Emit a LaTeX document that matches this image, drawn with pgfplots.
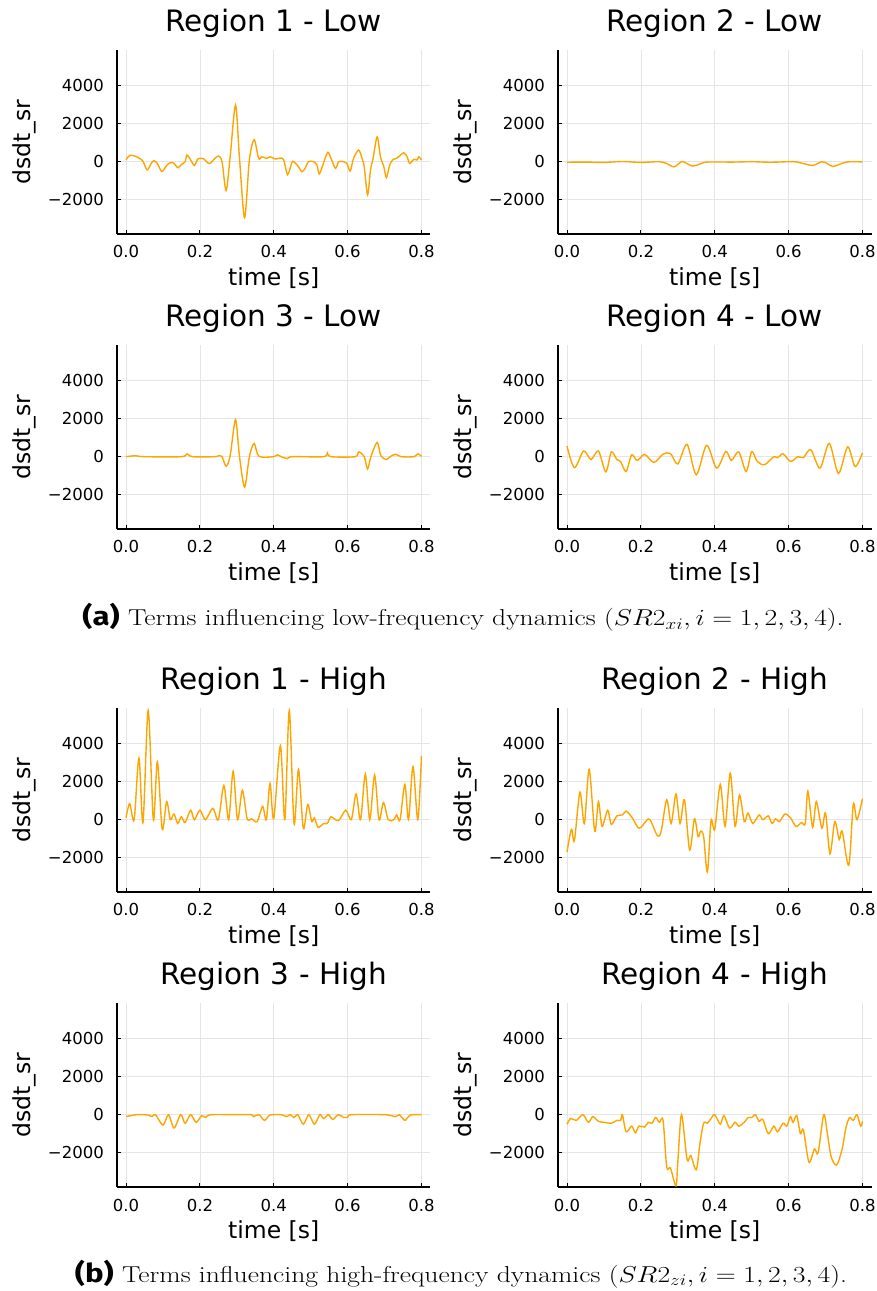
\documentclass[border=0pt]{standalone}
\usepackage{fix-cm}
\usepackage{pgfplots}
\pgfplotsset{compat=1.18}
\usepackage{fontspec}
\newfontfamily\dv{DejaVu Sans}
\newfontfamily\fira{Fira Sans}
\definecolor{jorange}{RGB}{255,165,0}
\pgfplotsset{panel/.style={
  scale only axis, width=313.5pt, height=184pt,
  xmin=-0.0244, xmax=0.8244, ymin=-3805, ymax=5878,
  axis lines=left, axis line style={black, line width=1.1pt, -},
  tick align=inside, major tick length=4pt, tick style={black, line width=0.8pt},
  xtick={0,0.2,0.4,0.6,0.8}, xticklabels={0.0,0.2,0.4,0.6,0.8},
  ytick={-2000,0,2000,4000}, yticklabels={−2000,0,2000,4000},
  grid=major, grid style={black!10, line width=0.6pt},
  ticklabel style={font=\dv\fontsize{16.5}{18}\selectfont, inner sep=0pt},
  xticklabel style={anchor=base, yshift=-24pt},
  yticklabel style={anchor=east, xshift=-13pt},
  xlabel={time [s]}, ylabel={dsdt\_sr},
  label style={font=\dv\fontsize{23.5}{26}\selectfont, inner sep=0pt},
  xlabel style={at={(axis description cs:0.5,0)}, anchor=base, yshift=-52pt},
  ylabel style={at={(axis description cs:-0.2775,0.5)}, anchor=base},
  title style={font=\dv\fontsize{29.5}{34}\selectfont, at={(axis description cs:0.5,1)}, anchor=base, yshift=12.3pt, inner sep=0pt},
},
sig/.style={color=jorange, line width=1.4pt, smooth, tension=0.5, mark=none}}
\begin{document}
\begin{tikzpicture}
\useasboundingbox (0,0) rectangle (877pt,1291pt);
% Row 1
\begin{axis}[panel, at={(117pt,1057pt)}, anchor=south west, title={Region 1 - Low}]
\addplot[sig] coordinates {(0,100)(0.01,330)(0.02,320)(0.03,250)(0.045,50)(0.057,-430)(0.068,-100)(0.075,50)(0.085,-100)(0.097,-520)(0.11,-200)(0.12,-50)(0.13,-80)(0.14,-320)(0.15,-150)(0.16,0)(0.165,350)(0.175,100)(0.185,-200)(0.195,150)(0.21,150)(0.225,-100)(0.24,150)(0.25,300)(0.26,0)(0.271,-1520)(0.282,260)(0.2965,2980)(0.307,260)(0.321,-2950)(0.334,90)(0.347,1160)(0.359,170)(0.368,260)(0.381,170)(0.39,260)(0.404,140)(0.418,190)(0.427,90)(0.4375,-680)(0.449,-50)(0.454,0)(0.467,-260)(0.476,-530)(0.485,-350)(0.494,0)(0.508,0)(0.517,-175)(0.523,-650)(0.533,-175)(0.546,490)(0.555,175)(0.567,-350)(0.576,0)(0.589,0)(0.598,-90)(0.607,-490)(0.616,175)(0.63,610)(0.639,175)(0.645,-260)(0.654,-1750)(0.662,-440)(0.669,175)(0.68,1310)(0.689,260)(0.698,-260)(0.705,-840)(0.714,-175)(0.723,120)(0.732,175)(0.741,300)(0.752,470)(0.761,260)(0.768,-90)(0.779,120)(0.788,90)(0.793,260)(0.8,90)};
\end{axis}
\begin{axis}[panel, at={(558pt,1057pt)}, anchor=south west, title={Region 2 - Low}]
\addplot[sig] coordinates {(0,-30)(0.05,-20)(0.1,-40)(0.15,10)(0.2,-40)(0.25,0)(0.27,-100)(0.29,-270)(0.31,0)(0.32,-50)(0.34,-230)(0.36,-120)(0.38,-20)(0.45,-20)(0.5,0)(0.55,-30)(0.6,0)(0.62,-10)(0.645,-120)(0.665,-200)(0.69,0)(0.7,-50)(0.72,-250)(0.74,-120)(0.76,-10)(0.8,-10)};
\end{axis}
% Row 2
\begin{axis}[panel, at={(117pt,762pt)}, anchor=south west, title={Region 3 - Low}]
\addplot[sig] coordinates {(0,0)(0.025,50)(0.05,0)(0.15,0)(0.165,150)(0.18,0)(0.24,0)(0.25,50)(0.26,0)(0.271,-500)(0.282,50)(0.2965,1950)(0.307,50)(0.321,-1600)(0.334,0)(0.347,700)(0.36,20)(0.4,0)(0.41,100)(0.42,0)(0.437,-100)(0.45,0)(0.535,0)(0.545,200)(0.555,0)(0.62,0)(0.63,250)(0.645,0)(0.654,-650)(0.663,0)(0.68,750)(0.69,50)(0.705,-150)(0.715,0)(0.73,130)(0.745,0)(0.78,0)(0.79,150)(0.8,20)};
\end{axis}
\begin{axis}[panel, at={(558pt,762pt)}, anchor=south west, title={Region 4 - Low}]
\addplot[sig] coordinates {(0,560)(0.02,-580)(0.045,300)(0.065,-150)(0.085,300)(0.105,-800)(0.12,250)(0.135,-150)(0.145,-250)(0.16,-780)(0.175,100)(0.19,-200)(0.21,120)(0.235,-300)(0.26,130)(0.28,170)(0.3,-380)(0.325,650)(0.35,-950)(0.378,600)(0.405,-600)(0.43,280)(0.445,-200)(0.465,250)(0.485,-780)(0.5,270)(0.515,-250)(0.535,-420)(0.56,0)(0.57,-50)(0.585,150)(0.605,-250)(0.625,0)(0.64,-50)(0.66,370)(0.685,-600)(0.71,700)(0.735,-880)(0.76,520)(0.78,-520)(0.8,200)};
\end{axis}
% Row 3
\begin{axis}[panel, at={(117pt,399pt)}, anchor=south west, title={Region 1 - High}]
\addplot[sig] coordinates {(0,100)(0.01,850)(0.022,0)(0.035,3250)(0.046,-150)(0.06,5750)(0.074,0)(0.085,3050)(0.098,-500)(0.11,950)(0.12,0)(0.13,300)(0.14,-200)(0.15,150)(0.16,-150)(0.175,500)(0.185,0)(0.2,500)(0.215,0)(0.235,600)(0.25,0)(0.265,1800)(0.278,0)(0.29,2550)(0.302,0)(0.315,1550)(0.328,50)(0.34,50)(0.355,-100)(0.37,700)(0.38,0)(0.39,1900)(0.4,50)(0.418,3900)(0.43,0)(0.442,5750)(0.455,-200)(0.467,2650)(0.48,-450)(0.492,800)(0.503,-100)(0.51,100)(0.52,-400)(0.535,-200)(0.545,-200)(0.555,150)(0.575,-50)(0.595,500)(0.61,0)(0.623,1350)(0.635,0)(0.648,2400)(0.66,0)(0.673,2350)(0.685,0)(0.697,900)(0.71,0)(0.725,0)(0.733,250)(0.742,0)(0.755,1850)(0.765,0)(0.777,2800)(0.79,0)(0.8,3350)};
\end{axis}
\begin{axis}[panel, at={(558pt,399pt)}, anchor=south west, title={Region 2 - High}]
\addplot[sig] coordinates {(0,-1700)(0.012,-500)(0.02,-1100)(0.035,1450)(0.047,-200)(0.06,2650)(0.075,-600)(0.085,950)(0.095,-350)(0.11,500)(0.12,-250)(0.135,200)(0.15,250)(0.16,450)(0.175,150)(0.195,-450)(0.215,-50)(0.225,0)(0.245,-850)(0.255,-600)(0.27,1050)(0.282,-200)(0.295,1350)(0.306,-200)(0.318,1050)(0.332,-1600)(0.345,50)(0.355,-900)(0.362,-600)(0.37,-900)(0.38,-2750)(0.39,-50)(0.4,-500)(0.415,1850)(0.428,-350)(0.442,2450)(0.455,-350)(0.467,1300)(0.48,-100)(0.49,350)(0.503,-200)(0.52,250)(0.53,0)(0.545,200)(0.555,-200)(0.565,50)(0.575,-100)(0.59,300)(0.605,100)(0.62,-350)(0.635,-150)(0.645,-200)(0.652,1500)(0.665,-400)(0.675,950)(0.69,-450)(0.7,350)(0.712,-1800)(0.725,-100)(0.737,-1050)(0.745,-600)(0.763,-2400)(0.775,800)(0.785,0)(0.8,1100)};
\end{axis}
% Row 4
\begin{axis}[panel, at={(117pt,104pt)}, anchor=south west, title={Region 3 - High}]
\addplot[sig] coordinates {(0,-100)(0.03,0)(0.06,-20)(0.07,-100)(0.08,0)(0.1,-550)(0.115,0)(0.13,-700)(0.148,0)(0.16,-450)(0.175,0)(0.19,-400)(0.205,-50)(0.215,-150)(0.23,0)(0.3,0)(0.34,0)(0.345,-100)(0.36,0)(0.375,-300)(0.39,-20)(0.42,0)(0.435,-100)(0.445,0)(0.455,-150)(0.465,0)(0.48,-500)(0.495,0)(0.51,-500)(0.525,0)(0.535,-200)(0.548,0)(0.56,-250)(0.575,0)(0.59,-150)(0.6,-150)(0.61,0)(0.7,0)(0.73,-100)(0.74,0)(0.755,-300)(0.77,-20)(0.8,0)};
\end{axis}
\begin{axis}[panel, at={(558pt,104pt)}, anchor=south west, title={Region 4 - High}]
\addplot[sig] coordinates {(0,-500)(0.01,-200)(0.025,-300)(0.043,0)(0.058,-400)(0.07,-100)(0.085,-350)(0.1,-400)(0.12,-450)(0.135,-300)(0.145,-300)(0.15,0)(0.16,-900)(0.175,-600)(0.185,-950)(0.195,-600)(0.21,-650)(0.22,-400)(0.23,-450)(0.24,-150)(0.25,-400)(0.26,-300)(0.27,-2750)(0.28,-2800)(0.295,-3750)(0.3,-2500)(0.31,0)(0.325,-2350)(0.335,-2150)(0.35,-2900)(0.36,-1500)(0.37,-450)(0.38,-450)(0.39,-200)(0.4,0)(0.415,-500)(0.425,-50)(0.44,-700)(0.455,-400)(0.465,-600)(0.48,-400)(0.49,-150)(0.5,-150)(0.51,0)(0.52,-350)(0.53,-250)(0.545,-1000)(0.56,-600)(0.57,-900)(0.585,-450)(0.595,-600)(0.605,-100)(0.612,-400)(0.622,-50)(0.632,-1000)(0.64,-800)(0.655,-2500)(0.67,-1800)(0.68,-2000)(0.695,0)(0.705,-1000)(0.715,-2200)(0.73,-2650)(0.745,-1800)(0.755,-700)(0.765,-150)(0.775,-300)(0.785,0)(0.795,-600)(0.8,-350)};
\end{axis}
% Captions
\node[anchor=base, inner sep=0pt] at (463pt,665pt) {\scalebox{1.2}[1]{\fontsize{23}{26}\selectfont{\fira\bfseries\fontsize{26}{28}\selectfont (a)}\ Terms influencing low-frequency dynamics ($SR2_{xi}, i = 1, 2, 3, 4$).}};
\node[anchor=base, inner sep=0pt] at (461pt,9pt) {\scalebox{1.2}[1]{\fontsize{23}{26}\selectfont{\fira\bfseries\fontsize{26}{28}\selectfont (b)}\ Terms influencing high-frequency dynamics ($SR2_{zi}, i = 1, 2, 3, 4$).}};
\end{tikzpicture}
\end{document}
